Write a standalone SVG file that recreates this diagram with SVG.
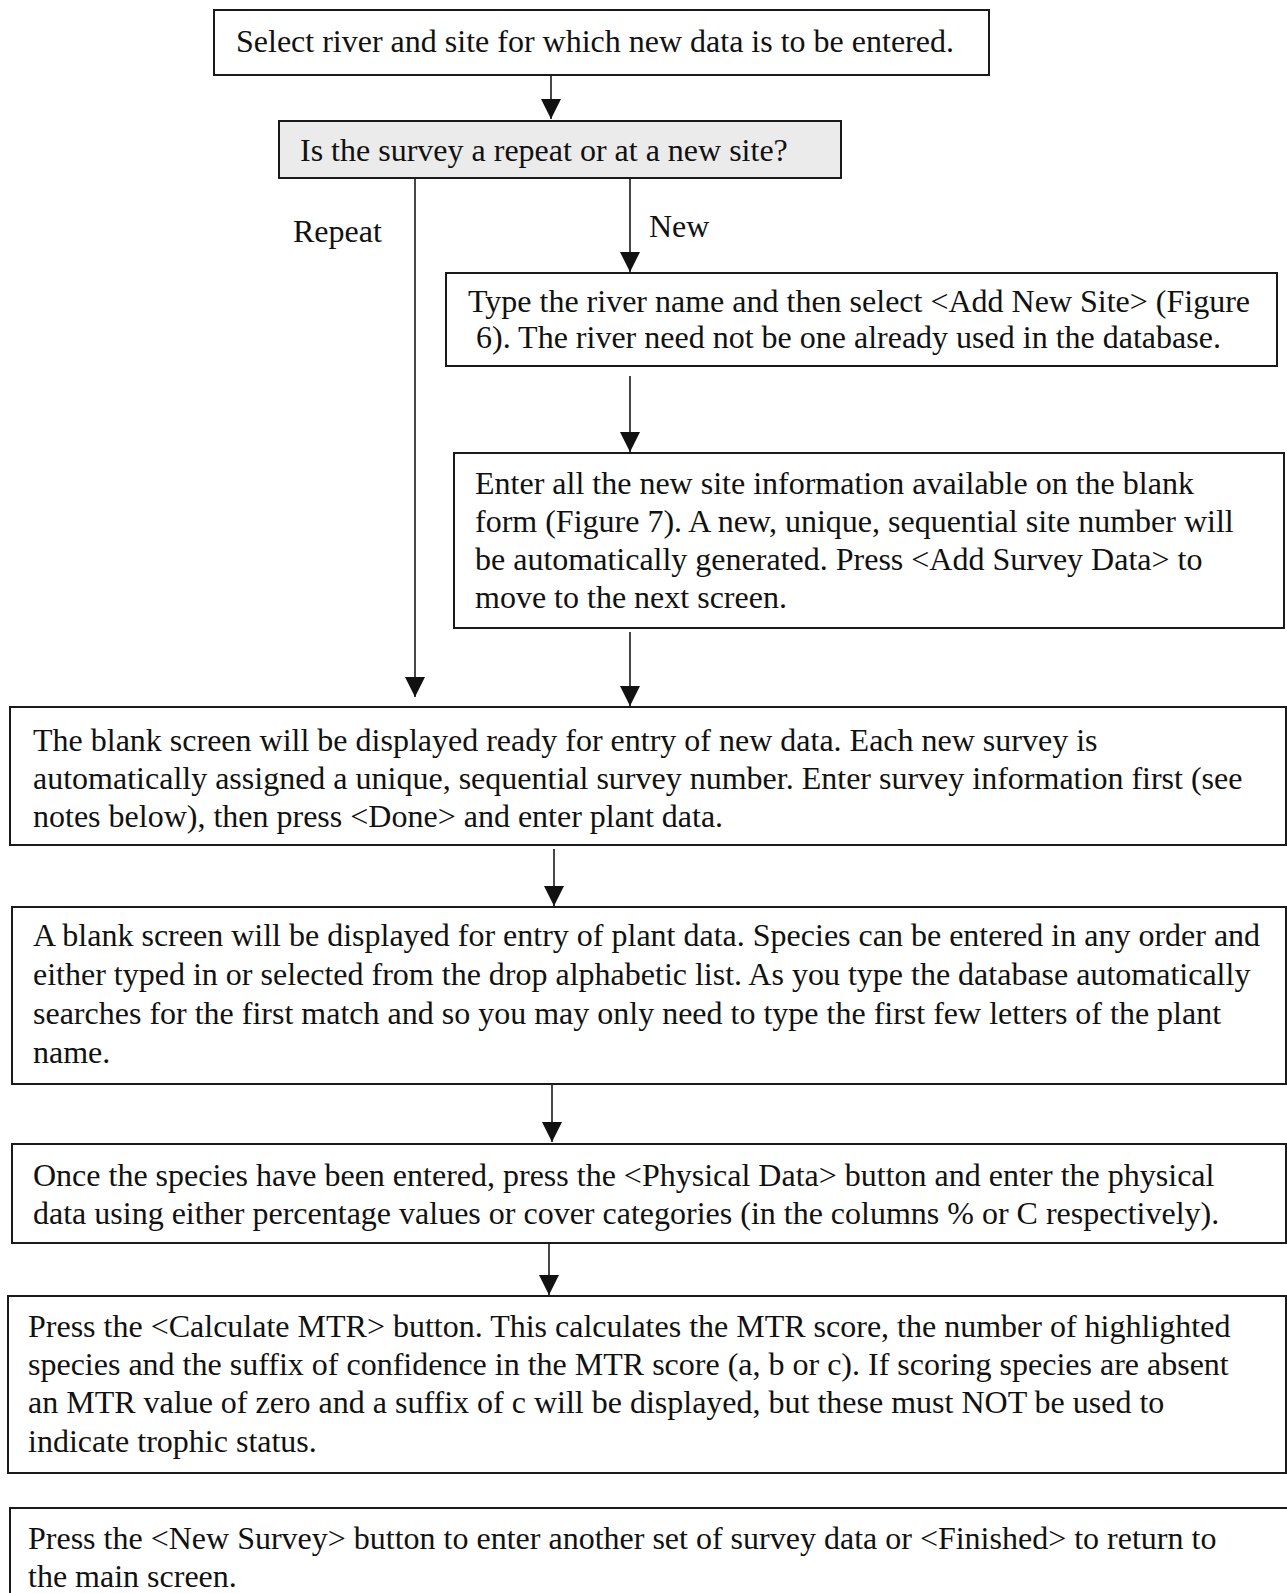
<svg xmlns="http://www.w3.org/2000/svg" width="1287" height="1593" viewBox="0 0 1287 1593">
<style>
.box{fill:#fff;stroke:#1a1a1a;stroke-width:2}
.gray{fill:#ebebeb}
.t{font-family:"Liberation Serif","Times New Roman",serif;font-size:32px;fill:#111}
.c{stroke:#1a1a1a;stroke-width:1.6;fill:none}
</style>
<defs>
<marker id="ah" markerUnits="userSpaceOnUse" markerWidth="20" markerHeight="22" refX="20" refY="10" orient="auto">
<path d="M0,0 L20,10 L0,20 z" fill="#111"/>
</marker>
</defs>
<rect width="1287" height="1593" fill="#fff"/>
<g id="connectors">
<line class="c" x1="551" y1="75" x2="551" y2="119" marker-end="url(#ah)"/>
<line class="c" x1="415" y1="178" x2="415" y2="697" marker-end="url(#ah)"/>
<line class="c" x1="630" y1="178" x2="630" y2="272" marker-end="url(#ah)"/>
<line class="c" x1="630" y1="376" x2="630" y2="452" marker-end="url(#ah)"/>
<line class="c" x1="630" y1="632" x2="630" y2="706" marker-end="url(#ah)"/>
<line class="c" x1="554" y1="849" x2="554" y2="906" marker-end="url(#ah)"/>
<line class="c" x1="552" y1="1085" x2="552" y2="1142" marker-end="url(#ah)"/>
<line class="c" x1="549" y1="1243" x2="549" y2="1295" marker-end="url(#ah)"/>
<text class="t" x="293" y="242">Repeat</text>
<text class="t" x="649" y="237">New</text>
</g>
<g id="n1">
<rect class="box" x="214" y="10" width="775" height="65"/>
<text class="t" x="236" y="52">Select river and site for which new data is to be entered.</text>
</g>
<g id="n2">
<rect class="box gray" x="279" y="121" width="562" height="57"/>
<text class="t" x="300" y="161">Is the survey a repeat or at a new site?</text>
</g>
<g id="n3">
<rect class="box" x="446" y="273" width="831" height="93"/>
<text class="t" x="468" y="312">Type the river name and then select &lt;Add New Site&gt; (Figure</text>
<text class="t" x="476" y="348">6). The river need not be one already used in the database.</text>
</g>
<g id="n4">
<rect class="box" x="454" y="453" width="830" height="175"/>
<text class="t" x="475" y="494">Enter all the new site information available on the blank</text>
<text class="t" x="475" y="532">form (Figure 7). A new, unique, sequential site number will</text>
<text class="t" x="475" y="570">be automatically generated. Press &lt;Add Survey Data&gt; to</text>
<text class="t" x="475" y="608">move to the next screen.</text>
</g>
<g id="n5">
<rect class="box" x="10" y="707" width="1276" height="138"/>
<text class="t" x="33" y="751">The blank screen will be displayed ready for entry of new data. Each new survey is</text>
<text class="t" x="33" y="789">automatically assigned a unique, sequential survey number. Enter survey information first (see</text>
<text class="t" x="33" y="827">notes below), then press &lt;Done&gt; and enter plant data.</text>
</g>
<g id="n6">
<rect class="box" x="12" y="907" width="1274" height="177"/>
<text class="t" x="33" y="946">A blank screen will be displayed for entry of plant data. Species can be entered in any order and</text>
<text class="t" x="33" y="985">either typed in or selected from the drop alphabetic list. As you type the database automatically</text>
<text class="t" x="33" y="1024">searches for the first match and so you may only need to type the first few letters of the plant</text>
<text class="t" x="33" y="1063">name.</text>
</g>
<g id="n7">
<rect class="box" x="12" y="1144" width="1274" height="99"/>
<text class="t" x="33" y="1186">Once the species have been entered, press the &lt;Physical Data&gt; button and enter the physical</text>
<text class="t" x="33" y="1224">data using either percentage values or cover categories (in the columns % or C respectively).</text>
</g>
<g id="n8">
<rect class="box" x="8" y="1296" width="1278" height="177"/>
<text class="t" x="28" y="1337">Press the &lt;Calculate MTR&gt; button. This calculates the MTR score, the number of highlighted</text>
<text class="t" x="28" y="1375">species and the suffix of confidence in the MTR score (a, b or c). If scoring species are absent</text>
<text class="t" x="28" y="1413">an MTR value of zero and a suffix of c will be displayed, but these must NOT be used to</text>
<text class="t" x="28" y="1452">indicate trophic status.</text>
</g>
<g id="n9">
<rect class="box" x="10" y="1508" width="1278" height="100"/>
<text class="t" x="28" y="1549">Press the &lt;New Survey&gt; button to enter another set of survey data or &lt;Finished&gt; to return to</text>
<text class="t" x="28" y="1587">the main screen.</text>
</g>
</svg>
